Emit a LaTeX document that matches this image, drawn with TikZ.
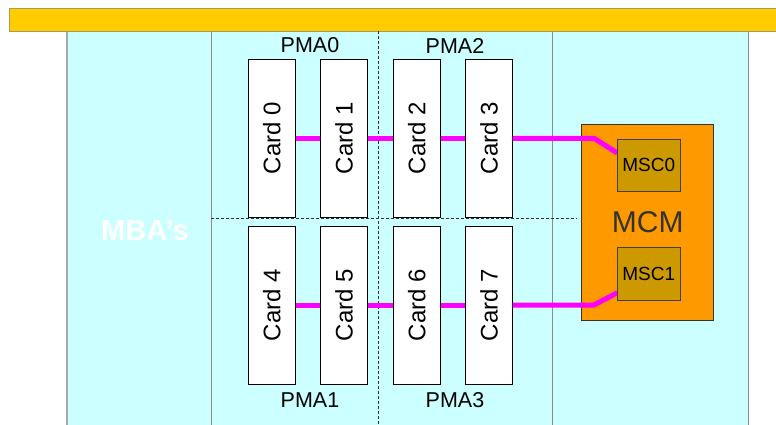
\documentclass[tikz,border=0pt]{standalone}
\usepackage{fontspec}
\setmainfont{Liberation Sans}
\definecolor{barY}{HTML}{FFCC00}
\definecolor{barEdge}{HTML}{A89A5A}
\definecolor{cyanbg}{HTML}{CCFFFF}
\definecolor{divgray}{HTML}{8C8C8C}
\definecolor{edgegray}{HTML}{A8A8A8}
\definecolor{mcmO}{HTML}{FF9900}
\definecolor{mscG}{HTML}{CC9900}
\definecolor{mag}{HTML}{FF00FF}
\definecolor{dashc}{HTML}{333333}
\begin{document}
\begin{tikzpicture}[x=1pt,y=-1pt,
  cardbox/.style={draw=black, fill=white, line width=0.9pt, minimum width=47pt, minimum height=158pt, inner sep=0pt,
    font=\fontsize{24}{24}\selectfont},
  pmalabel/.style={inner sep=0pt, font=\fontsize{21.5}{21.5}\selectfont},
  mscbox/.style={draw=black!75, fill=mscG, line width=0.8pt, minimum width=63pt, minimum height=52.7pt, inner sep=0pt,
    font=\fontsize{19}{19}\selectfont},
  conn/.style={draw=mag, line width=5pt, line join=round},
  divline/.style={draw=divgray, line width=0.9pt},
  sep/.style={draw=dashc, line width=0.8pt, dash pattern=on 3pt off 2pt}]
\useasboundingbox (0,0) rectangle (776,425);
\clip (0,0) rectangle (776,425);
% background regions
\fill[cyanbg] (67,31) rectangle (748,430);
\draw[draw=edgegray, line width=1.4pt] (67,31) -- (67,430);
\draw[divline] (748,31) -- (748,430);
\draw[divline] (211,31) -- (211,430);
\draw[divline] (552,31) -- (552,430);
\draw[fill=barY, draw=barEdge, line width=0.9pt] (9,8.5) rectangle (790,31);
% separators
\draw[sep] (378,31) -- (378,430);
\draw[sep] (211,218.7) -- (577,218.7);
% labels
\node[inner sep=0pt, text=white, font=\bfseries\fontsize{29}{29}\selectfont] (mba) at (145,231) {MBA’s};
\node[pmalabel] (pma0) at (310,45.5) {PMA0};
\node[pmalabel] (pma2) at (455,45.5) {PMA2};
\node[pmalabel] (pma1) at (310,400.5) {PMA1};
\node[pmalabel] (pma3) at (455,400.5) {PMA3};
% cards
\node[cardbox] (c0) at (271.7,138.3) {\rotatebox{90}{Card 0}};
\node[cardbox] (c1) at (344.0,138.3) {\rotatebox{90}{Card 1}};
\node[cardbox] (c2) at (416.8,138.3) {\rotatebox{90}{Card 2}};
\node[cardbox] (c3) at (489.0,138.3) {\rotatebox{90}{Card 3}};
\node[cardbox] (c4) at (271.7,305) {\rotatebox{90}{Card 4}};
\node[cardbox] (c5) at (344.0,305) {\rotatebox{90}{Card 5}};
\node[cardbox] (c6) at (416.8,305) {\rotatebox{90}{Card 6}};
\node[cardbox] (c7) at (489.0,305) {\rotatebox{90}{Card 7}};
% MCM
\node[draw=black!80, fill=mcmO, line width=0.9pt, minimum width=132pt, minimum height=195.7pt, inner sep=0pt,
  text=black!80, font=\fontsize{30}{30}\selectfont] (mcm) at (647.7,222.2) {MCM};
\coordinate (b0) at (594,138.3);
\coordinate (m0) at (617.3,153);
\coordinate (b1) at (594,305);
\coordinate (m1) at (617.3,292.7);
% connectors
\draw[conn] (c0.east) -- (c1.west);
\draw[conn] (c1.east) -- (c2.west);
\draw[conn] (c2.east) -- (c3.west);
\draw[conn] (c3.east) -- (b0) -- (m0);
\draw[conn] (c4.east) -- (c5.west);
\draw[conn] (c5.east) -- (c6.west);
\draw[conn] (c6.east) -- (c7.west);
\draw[conn] (c7.east) -- (b1) -- (m1);
% MSCs
\node[mscbox] (msc0) at (648.8,165.3) {MSC0};
\node[mscbox] (msc1) at (648.8,273.8) {MSC1};
\end{tikzpicture}
\end{document}
